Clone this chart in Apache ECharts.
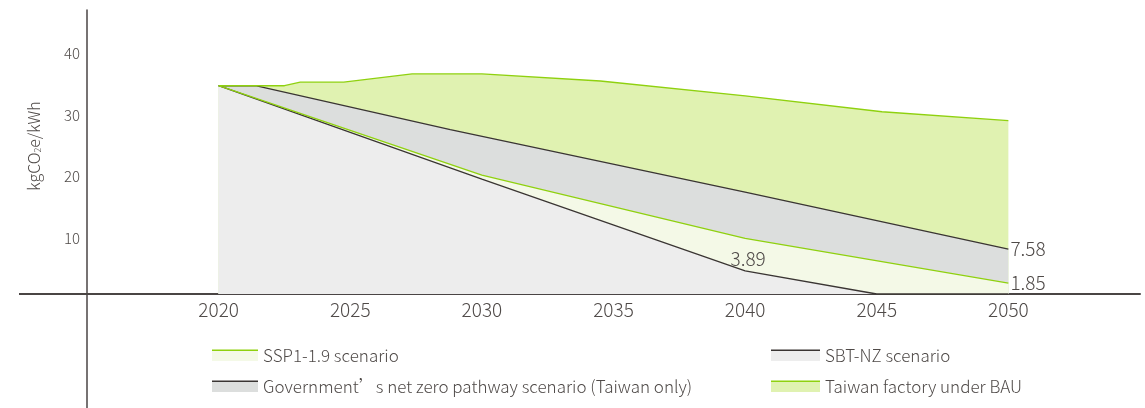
<!DOCTYPE html>
<html>
<head>
<meta charset="utf-8">
<script src="https://cdn.jsdelivr.net/npm/echarts@6/dist/echarts.min.js"></script>
<style>
html,body{margin:0;padding:0;background:#fff;}
#chart{width:1145px;height:408px;}
</style>
</head>
<body>
<div id="chart"></div>
<script>
// ---- data ----
const bauYears = [2020, 2022.5, 2023.1, 2024.75, 2027.35, 2030, 2034.5, 2040, 2045.2, 2050];
const bauValues = [35.2, 35.2, 35.8, 35.8, 37.2, 37.2, 36.0, 33.5, 30.8, 29.3];

const govYears = [2020, 2021.4, 2028.8, 2040, 2050];
const govValues = [35.2, 35.2, 27.8, 17.2, 7.58];

const sspYears = [2020, 2030, 2040, 2050];
const sspValues = [35.2, 20.1, 9.4, 1.85];

const sbtYears = [2020, 2030, 2040, 2045, 2050];
const sbtValues = [35.2, 19.4, 3.89, 0, 0];

const xTickLabels = [2020, 2025, 2030, 2035, 2040, 2045, 2050];
const yTickLabels = [10, 20, 30, 40];

const names = {
  ssp: 'SSP1-1.9 scenario',
  gov: 'Government\u2019s net zero pathway scenario (Taiwan only)',
  sbt: 'SBT-NZ scenario',
  bau: 'Taiwan factory under BAU'
};

// ---- styles ----
const FONT = '"Noto Sans CJK TC", "Noto Sans", sans-serif';
const TEXT = '#4f4a48';
const WEIGHT = 300;
const GREEN = '#8fd10f';
const DARK = '#3a3533';
const FILL = { bau: '#e0f2b1', gov: '#dcdedd', ssp: '#f4f9e7', sbt: '#ededed' };
const LINE = { bau: GREEN, gov: DARK, ssp: GREEN, sbt: DARK };

function pairs(xs, ys, labelIdx, labelCfg) {
  return xs.map((x, i) => {
    if (i === labelIdx) {
      return {
        value: [x, ys[i]],
        symbolSize: 2,
        label: Object.assign({ show: true, color: TEXT, fontFamily: FONT, fontWeight: WEIGHT, fontSize: 19,
          formatter: p => String(p.value[1]) }, labelCfg)
      };
    }
    return [x, ys[i]];
  });
}

function areaSeries(key, xs, ys) {
  return {
    type: 'line', name: names[key], xAxisIndex: 0, yAxisIndex: 0,
    data: pairs(xs, ys, -1), symbol: 'none', silent: true, z: 1,
    lineStyle: { width: 0, opacity: 0 },
    areaStyle: { color: FILL[key], opacity: 1 },
    itemStyle: { color: FILL[key] }
  };
}
function lineSeries(key, xs, ys, labelIdx, labelCfg) {
  return {
    type: 'line', name: names[key], xAxisIndex: 0, yAxisIndex: 0,
    data: pairs(xs, ys, labelIdx, labelCfg),
    symbol: 'circle', symbolSize: 0.01, showSymbol: true, silent: true, z: 3,
    lineStyle: { width: 1.3, color: LINE[key] },
    itemStyle: { color: 'rgba(0,0,0,0)' },
    label: { show: false },
    emphasis: { disabled: true }
  };
}

const legendText = { color: TEXT, fontFamily: FONT, fontWeight: WEIGHT, fontSize: 17, lineHeight: 20, padding: [0, 0, 0, 0] };
function legendItem(key) {
  return {
    name: names[key], icon: 'rect',
    itemStyle: { color: FILL[key], shadowColor: LINE[key], shadowBlur: 0, shadowOffsetX: 0, shadowOffsetY: -1.6, borderWidth: 0 }
  };
}

const chart = echarts.init(document.getElementById('chart'), null, { renderer: 'canvas' });

const option = {
  animation: false,
  backgroundColor: '#ffffff',
  grid: [
    { left: 87, right: 5, top: 10, bottom: 114 },
    { left: 87, right: 5, top: 10, bottom: 108 }
  ],
  xAxis: [
    {
      type: 'value', gridIndex: 0, min: 2015, max: 2055, interval: 5,
      axisLine: { show: true, lineStyle: { color: '#4a4544', width: 2 } },
      axisTick: { show: false }, splitLine: { show: false },
      axisLabel: {
        color: TEXT, fontFamily: FONT, fontWeight: WEIGHT, fontSize: 19, margin: 6,
        formatter: v => (xTickLabels.indexOf(v) >= 0 ? String(v) : '')
      }
    },
    { type: 'value', gridIndex: 1, min: 2015, max: 2055, show: false }
  ],
  yAxis: [
    {
      type: 'value', gridIndex: 0, min: 0, max: 48, interval: 8,
      axisLine: { show: true, onZero: false, lineStyle: { color: '#4a4544', width: 1.5 } },
      axisTick: { show: false }, splitLine: { show: false },
      axisLabel: { show: false },
      name: 'kgCO{sub|2}e/kWh', nameLocation: 'middle', nameRotate: 90, nameGap: 45,
      nameTextStyle: {
        color: TEXT, fontFamily: FONT, fontWeight: WEIGHT, fontSize: 16, padding: [0, 0, 0, 12],
        rich: { sub: { fontSize: 9, fontFamily: FONT, fontWeight: WEIGHT, color: TEXT, verticalAlign: 'bottom', padding: [8, 0, 0, 0] } }
      }
    },
    {
      type: 'value', gridIndex: 1, min: 0, max: 47, interval: 10,
      axisLine: { show: false }, axisTick: { show: false }, splitLine: { show: false },
      axisLabel: {
        color: TEXT, fontFamily: FONT, fontWeight: WEIGHT, fontSize: 15, margin: 7,
        formatter: v => (yTickLabels.indexOf(v) >= 0 ? String(v) : '')
      }
    }
  ],
  legend: [
    {
      orient: 'vertical', left: 207, top: 341, itemWidth: 46, itemHeight: 10, itemGap: 11,
      selectedMode: false, textStyle: legendText,
      data: [legendItem('ssp'), legendItem('gov')]
    },
    {
      orient: 'vertical', left: 766, top: 341, itemWidth: 49, itemHeight: 10, itemGap: 11,
      selectedMode: false, textStyle: legendText,
      data: [legendItem('sbt'), legendItem('bau')]
    }
  ],
  series: [
    areaSeries('bau', bauYears, bauValues),
    areaSeries('gov', govYears, govValues),
    areaSeries('ssp', sspYears, sspValues),
    areaSeries('sbt', sbtYears, sbtValues),
    lineSeries('sbt', sbtYears, sbtValues, 2, { position: 'top', distance: 2, offset: [3, 0] }),
    lineSeries('gov', govYears, govValues, govYears.length - 1, { position: 'right', distance: 1 }),
    lineSeries('ssp', sspYears, sspValues, sspYears.length - 1, { position: 'right', distance: 1 }),
    lineSeries('bau', bauYears, bauValues, -1)
  ]
};
chart.setOption(option);

// extend the axis lines beyond the plotting area (as in the reference)
const origin = chart.convertToPixel({ gridIndex: 0 }, [2015, 0]);
chart.setOption({
  graphic: [
    { type: 'line', silent: true, z: 10, shape: { x1: 19, y1: origin[1], x2: origin[0], y2: origin[1] },
      style: { stroke: '#4a4544', lineWidth: 2 } },
    { type: 'line', silent: true, z: 10, shape: { x1: origin[0], y1: origin[1], x2: origin[0], y2: 408 },
      style: { stroke: '#4a4544', lineWidth: 1.5 } }
  ]
});
</script>
</body>
</html>
